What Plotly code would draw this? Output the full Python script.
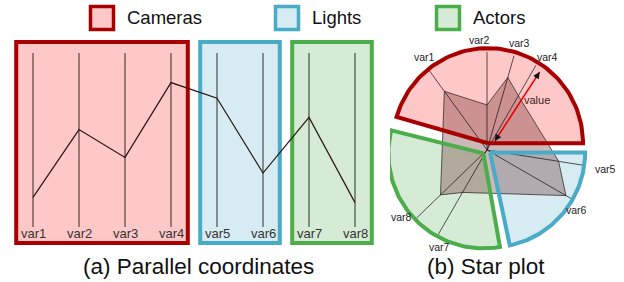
import numpy as np
import plotly.graph_objects as go

# ---------------- data ----------------
var_names = ["var1", "var2", "var3", "var4", "var5", "var6", "var7", "var8"]
pc_values = [0.17, 0.56, 0.40, 0.83, 0.74, 0.31, 0.63, 0.14]

groups = ["Cameras", "Lights", "Actors"]
group_members = [[0, 1, 2, 3], [4, 5], [6, 7]]

star_angles = [126, 90, 74, 60, -9, -30, 240, 224]   # spoke directions (deg)
star_values = [0.74, 0.46, 0.77, 0.64, 0.74, 0.93, 0.50, 0.66]
wedge_start = [0, -78, 166]
wedge_end = [164, 0, 280]

captions = ["(a) Parallel coordinates", "(b) Star plot"]

# ---------------- styles / placement ----------------
border_col = ["#a80000", "#4aabc6", "#4bae4b"]
fill_col = ["#ffc8c8", "#d7ebf2", "#d5ebd5"]
explode = [0.07, 0.04, 0.05]
wedge_r = 0.97
label_angle = [124, 94, 73, 57, -9, -34, 244, 218]
label_rad = [1.14, 1.13, 1.14, 1.13, 1.22, 1.10, 1.10, 1.11]
FONT = "Liberation Sans, Arial, sans-serif"

W, H = 624, 282
split = 390 / W

fig = go.Figure()

# ---------------- parallel coordinates ----------------
pad = 0.365
for g, mem in enumerate(group_members):
    fig.add_shape(type="rect", xref="x", yref="y",
                  x0=min(mem) - pad, x1=max(mem) + pad, y0=-0.092, y1=1.063,
                  line=dict(color=border_col[g], width=4), fillcolor=fill_col[g],
                  layer="below")

for i, name in enumerate(var_names):
    fig.add_trace(go.Scatter(x=[i, i], y=[0, 1], mode="lines",
                             line=dict(color="rgba(0,0,0,0.62)", width=1.3),
                             hoverinfo="skip", showlegend=False,
                             xaxis="x", yaxis="y"))
    fig.add_annotation(x=i, y=-0.035, xref="x", yref="y", text=name,
                       showarrow=False, xanchor="center", yanchor="middle",
                       font=dict(family=FONT, size=13, color="#333"))

fig.add_trace(go.Scatter(x=list(range(len(var_names))), y=pc_values, mode="lines",
                         line=dict(color="#2a1515", width=1.2),
                         hoverinfo="skip", showlegend=False, xaxis="x", yaxis="y"))

# ---------------- star plot ----------------
def wedge_xy(g):
    a0, a1 = np.radians(wedge_start[g]), np.radians(wedge_end[g])
    mid = (a0 + a1) / 2
    ox, oy = explode[g] * np.cos(mid), explode[g] * np.sin(mid)
    t = np.linspace(a0, a1, 80)
    xs = np.concatenate([[ox], ox + wedge_r * np.cos(t), [ox]])
    ys = np.concatenate([[oy], oy + wedge_r * np.sin(t), [oy]])
    return xs, ys

for g in range(len(groups)):
    xs, ys = wedge_xy(g)
    fig.add_trace(go.Scatter(x=xs, y=ys, mode="lines", fill="toself",
                             fillcolor=fill_col[g], line=dict(width=0),
                             hoverinfo="skip", showlegend=False,
                             xaxis="x2", yaxis="y2"))

ang = np.radians(star_angles)
vals = np.array(star_values)
px = np.append(vals * np.cos(ang), vals[0] * np.cos(ang[0]))
py = np.append(vals * np.sin(ang), vals[0] * np.sin(ang[0]))
fig.add_trace(go.Scatter(x=px, y=py, mode="lines", fill="toself",
                         fillcolor="rgba(95,35,35,0.32)",
                         line=dict(color="rgba(40,30,30,0.8)", width=0.9),
                         hoverinfo="skip", showlegend=False,
                         xaxis="x2", yaxis="y2"))

for a in ang:
    fig.add_trace(go.Scatter(x=[0, np.cos(a)], y=[0, np.sin(a)], mode="lines",
                             line=dict(color="rgba(20,20,20,0.8)", width=0.9),
                             hoverinfo="skip", showlegend=False,
                             xaxis="x2", yaxis="y2"))

for g in range(len(groups)):
    xs, ys = wedge_xy(g)
    fig.add_trace(go.Scatter(x=xs, y=ys, mode="lines",
                             line=dict(color=border_col[g], width=4),
                             hoverinfo="skip", showlegend=False,
                             xaxis="x2", yaxis="y2"))

for name, la, lr in zip(var_names, label_angle, label_rad):
    a = np.radians(la)
    fig.add_annotation(x=lr * np.cos(a), y=lr * np.sin(a), xref="x2", yref="y2",
                       text=name, showarrow=False, xanchor="center", yanchor="middle",
                       font=dict(family=FONT, size=10.5, color="#222"))

# value arrow
va = np.radians(57)
r0, r1 = 0.11, 0.95
ax0, ay0 = r0 * np.cos(va) + 0.02, r0 * np.sin(va)
ax1, ay1 = r1 * np.cos(va) + 0.02, r1 * np.sin(va)
fig.add_trace(go.Scatter(x=[ax0, ax1], y=[ay0, ay1], mode="lines",
                         line=dict(color="#ee0000", width=1.6),
                         hoverinfo="skip", showlegend=False, xaxis="x2", yaxis="y2"))
dx, dy = 0.09 * np.cos(va), 0.09 * np.sin(va)
fig.add_annotation(x=ax1, y=ay1, ax=ax1 - dx, ay=ay1 - dy, xref="x2", yref="y2",
                   axref="x2", ayref="y2", text="", showarrow=True, arrowhead=2,
                   arrowsize=1.1, arrowwidth=1.2, arrowcolor="#111")
fig.add_annotation(x=ax0, y=ay0, ax=ax0 + dx, ay=ay0 + dy, xref="x2", yref="y2",
                   axref="x2", ayref="y2", text="", showarrow=True, arrowhead=2,
                   arrowsize=1.1, arrowwidth=1.2, arrowcolor="#111")
fig.add_annotation(x=0.51, y=0.51, xref="x2", yref="y2", text="value",
                   showarrow=False, xanchor="center", yanchor="middle",
                   font=dict(family=FONT, size=11, color="#3a2020"))

# ---------------- legend ----------------
leg_box_x = [89, 274, 435]
for g, name in enumerate(groups):
    x0 = leg_box_x[g]
    fig.add_shape(type="rect", xref="paper", yref="paper",
                  x0=(x0 + 1.5) / W, x1=(x0 + 24.5) / W,
                  y0=1 - 29.5 / H, y1=1 - 6.5 / H,
                  line=dict(color=border_col[g], width=3.5), fillcolor=fill_col[g])
    fig.add_annotation(x=(x0 + 36) / W, y=1 - 18 / H, xref="paper", yref="paper",
                       text=name, showarrow=False, xanchor="left", yanchor="middle",
                       font=dict(family=FONT, size=18.5, color="#111"))

# ---------------- captions ----------------
fig.add_annotation(x=198 / W, y=1 - 266 / H, xref="paper", yref="paper",
                   text=captions[0], showarrow=False, xanchor="center", yanchor="middle",
                   font=dict(family=FONT, size=22.5, color="#111"))
fig.add_annotation(x=486 / W, y=1 - 266 / H, xref="paper", yref="paper",
                   text=captions[1], showarrow=False, xanchor="center", yanchor="middle",
                   font=dict(family=FONT, size=22.5, color="#111"))

ax_common = dict(visible=False, showgrid=False, zeroline=False, fixedrange=True)
fig.update_layout(
    width=W, height=H, margin=dict(l=0, r=0, t=0, b=0),
    paper_bgcolor="white", plot_bgcolor="white", showlegend=False,
    xaxis=dict(domain=[0, split], range=[-33 / 46, (390 - 33) / 46], **ax_common),
    yaxis=dict(domain=[0, 1], range=[-55 / 174, 227 / 174], **ax_common),
    xaxis2=dict(domain=[split, 1], range=[(390 - 487) / 98, (624 - 487) / 98],
                anchor="y2", **ax_common),
    yaxis2=dict(domain=[0, 1], range=[-132 / 98, 150 / 98], anchor="x2", **ax_common),
)

fig.write_html("out.html", config={"displayModeBar": False, "staticPlot": True},
               post_script="document.body.style.margin='0px';document.body.style.overflow='hidden';")
